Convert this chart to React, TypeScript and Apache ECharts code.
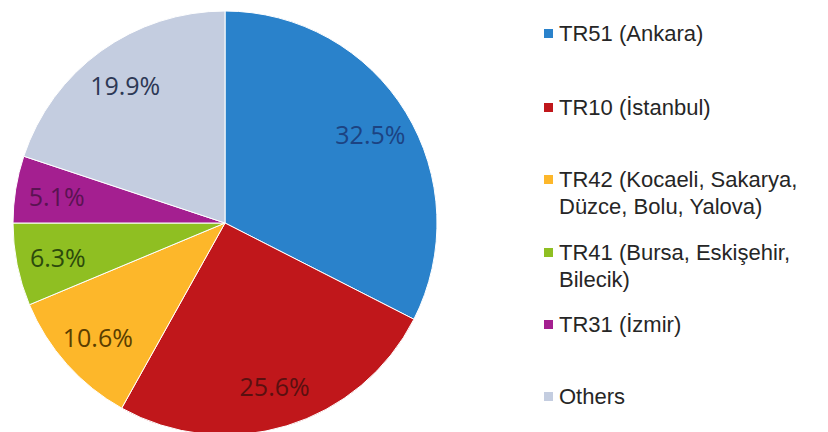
import React, { useEffect, useRef } from "react";
import * as echarts from "echarts";

const regions = [
  "TR51 (Ankara)",
  "TR10 (İstanbul)",
  "TR42 (Kocaeli, Sakarya,\nDüzce, Bolu, Yalova)",
  "TR41 (Bursa, Eskişehir,\nBilecik)",
  "TR31 (İzmir)",
  "Others",
];
const shares = [32.5, 25.6, 10.6, 6.3, 5.1, 19.9];
const sliceColors = ["#2a82cb", "#c0171b", "#fdb72a", "#8fbf22", "#a41f90", "#c4cde0"];
const labelColors = ["#1c4382", "#5a1010", "#5a3e00", "#2c4a0c", "#5a1352", "#2d3855"];
const legendTops = [20, 94, 139, 212, 311, 383];

export default function App() {
  const ref = useRef<HTMLDivElement>(null);
  useEffect(() => {
    if (!ref.current) return;
    const chart = echarts.init(ref.current, null, { renderer: "svg" });
    const data = regions.map((name, i) => ({
      name,
      value: shares[i],
      itemStyle: { color: sliceColors[i] },
    }));
    const labelData = regions.map((name, i) => ({
      name,
      value: shares[i],
      label: { color: labelColors[i] },
    }));
    const LH = 27;
    chart.setOption({
      animation: false,
      backgroundColor: "#ffffff",
      legend: regions.map((name, i) => ({
        data: [name],
        left: 542,
        top: legendTops[i],
        padding: 0,
        orient: "vertical",
        icon: "rect",
        itemWidth: 11,
        itemHeight: 11,
        selectedMode: false,
        formatter: (n: string) => (n.includes("\n") ? "\n" + n : n),
        textStyle: {
          fontFamily: "Liberation Sans, Arial, sans-serif",
          fontSize: 22,
          lineHeight: LH,
          color: "#262626",
        },
      })),
      series: [
        {
          type: "pie",
          center: [225, 223],
          radius: [0, 212],
          startAngle: 90,
          clockwise: true,
          label: { show: false },
          labelLine: { show: false },
          itemStyle: { borderColor: "#ffffff", borderWidth: 1 },
          emphasis: { disabled: true },
          data,
        },
        {
          type: "pie",
          center: [225, 223],
          radius: [123, 212],
          startAngle: 90,
          clockwise: true,
          silent: true,
          itemStyle: { color: "rgba(0,0,0,0)" },
          label: {
            show: true,
            position: "inside",
            formatter: (p: any) => p.value.toFixed(1) + "%",
            fontFamily: "Open Sans, sans-serif",
            fontSize: 25,
          },
          labelLine: { show: false },
          emphasis: { disabled: true },
          data: labelData,
        },
      ],
    });
    return () => chart.dispose();
  }, []);
  return (
    <div
      ref={ref}
      style={{ position: "fixed", left: 0, top: 0, width: 828, height: 432 }}
    />
  );
}
